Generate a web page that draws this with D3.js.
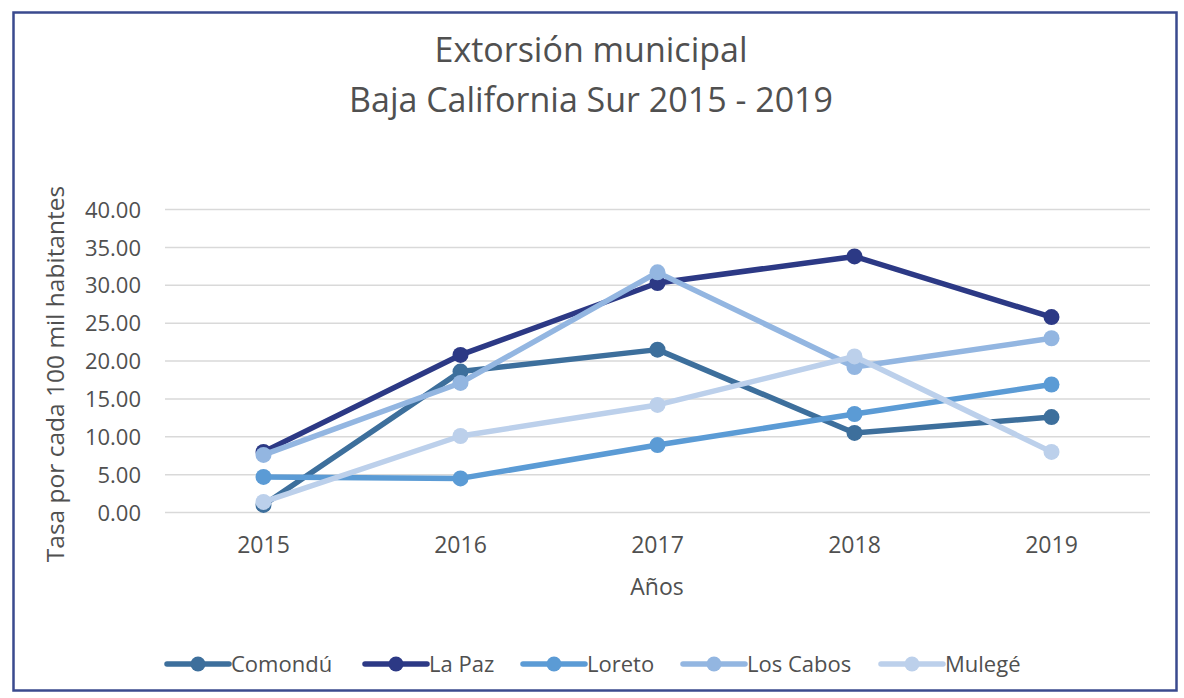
<!DOCTYPE html>
<html>
<head>
<meta charset="utf-8">
<script src="https://cdn.jsdelivr.net/npm/d3@7"></script>
<style>
  html, body { margin: 0; padding: 0; background: #fff; }
  svg { display: block; font-family: "Open Sans", "DejaVu Sans", sans-serif; }
</style>
</head>
<body>
<svg id="chart" width="1184" height="698"></svg>
<script>
const years = ["2015", "2016", "2017", "2018", "2019"];
const seriesNames = ["Comondú", "La Paz", "Loreto", "Los Cabos", "Mulegé"];
const comondu  = [1.0, 18.6, 21.5, 10.5, 12.6];
const laPaz    = [8.0, 20.8, 30.3, 33.8, 25.8];
const loreto   = [4.7, 4.5, 8.9, 13.0, 16.9];
const losCabos = [7.6, 17.1, 31.7, 19.2, 23.0];
const mulege   = [1.4, 10.1, 14.2, 20.6, 8.0];
const yTicks = [0, 5, 10, 15, 20, 25, 30, 35, 40];
const colors = ["#3d6f9c", "#2c3985", "#5b9bd5", "#93b6e1", "#bcd0eb"];

const seriesValues = [comondu, laPaz, loreto, losCabos, mulege];
const series = seriesNames.map((n, i) => ({ name: n, values: seriesValues[i], color: colors[i] }));

const svg = d3.select("#chart");
const textColor = "#505050";

// frame
svg.append("rect").attr("x", 13.5).attr("y", 12.5).attr("width", 1163).attr("height", 678)
  .attr("fill", "#fff").attr("stroke", "#3a4a8e").attr("stroke-width", 2.5);

const pLeft = 165, pRight = 1150, pTop = 209.5, pBottom = 512.5;
const x = d3.scaleBand().domain(years).range([pLeft, pRight]);
const y = d3.scaleLinear().domain([0, 40]).range([pBottom, pTop]);

// gridlines
svg.append("g").selectAll("line").data(yTicks).join("line")
  .attr("x1", pLeft).attr("x2", pRight)
  .attr("y1", d => y(d)).attr("y2", d => y(d))
  .attr("stroke", "#d9d9d9").attr("stroke-width", 1.5);

// y axis
const yAxis = svg.append("g").attr("transform", `translate(${pLeft - 24},0)`)
  .call(d3.axisLeft(y).tickValues(yTicks).tickFormat(d3.format(".2f")).tickSize(0).tickPadding(0));
yAxis.select(".domain").remove();
yAxis.selectAll("text").attr("fill", textColor).style("font-size", "22px")
  .attr("dy", "0.35em").attr("font-family", "Open Sans");

// x axis
const xAxis = svg.append("g").attr("transform", `translate(0,${pBottom})`)
  .call(d3.axisBottom(x).tickSize(0).tickPadding(24));
xAxis.select(".domain").remove();
xAxis.selectAll("text").attr("fill", textColor).style("font-size", "23px").attr("font-family", "Open Sans");

// titles
const title = svg.append("text").attr("x", 591).attr("text-anchor", "middle")
  .attr("fill", textColor).style("font-size", "34px");
title.append("tspan").attr("x", 591).attr("y", 62).text("Extorsión municipal");
title.append("tspan").attr("x", 591).attr("y", 112).text("Baja California Sur 2015 - 2019");

svg.append("text").attr("x", 657).attr("y", 595).attr("text-anchor", "middle")
  .attr("fill", textColor).style("font-size", "23px").text("Años");

svg.append("text").attr("transform", `translate(64,${(185 + 563) / 2}) rotate(-90)`)
  .attr("text-anchor", "middle").attr("fill", textColor).style("font-size", "24.5px")
  .text("Tasa por cada 100 mil habitantes");

// lines
const line = d3.line().x((d, i) => x(years[i]) + x.bandwidth() / 2).y(d => y(d));
const gS = svg.append("g");
series.forEach(s => {
  gS.append("path").attr("d", line(s.values)).attr("fill", "none")
    .attr("stroke", s.color).attr("stroke-width", 5.5).attr("stroke-linejoin", "round").attr("stroke-linecap", "round");
  gS.append("g").selectAll("circle").data(s.values).join("circle")
    .attr("cx", (d, i) => x(years[i]) + x.bandwidth() / 2)
    .attr("cy", d => y(d)).attr("r", 8).attr("fill", s.color);
});

// legend
const legendX = [167, 365, 523, 683, 881];
const ly = 664;
const lg = svg.append("g");
series.forEach((s, i) => {
  const g = lg.append("g").attr("transform", `translate(${legendX[i]},${ly})`);
  g.append("line").attr("x1", 0).attr("x2", 62).attr("y1", 0).attr("y2", 0)
    .attr("stroke", s.color).attr("stroke-width", 5.5).attr("stroke-linecap", "round");
  g.append("circle").attr("cx", 31).attr("cy", 0).attr("r", 7.5).attr("fill", s.color);
  g.append("text").attr("x", 64).attr("y", 0).attr("dy", "0.35em")
    .attr("fill", textColor).style("font-size", "22px").text(s.name);
});
</script>
</body>
</html>
